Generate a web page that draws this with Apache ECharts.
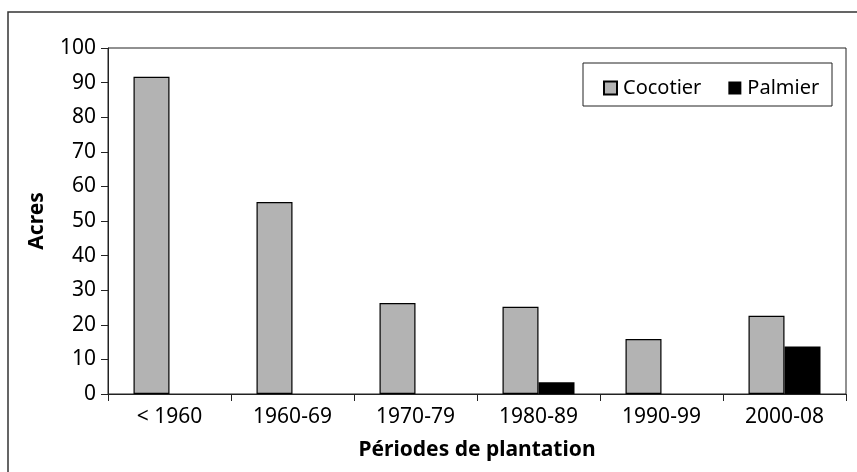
<!DOCTYPE html>
<html>
<head>
<meta charset="utf-8">
<script src="https://cdn.jsdelivr.net/npm/echarts@6/dist/echarts.min.js"></script>
<style>
  html, body { margin: 0; padding: 0; background: #fff; }
  #chart { width: 857px; height: 472px; }
</style>
</head>
<body>
<div id="chart"></div>
<script>
// périodes et surfaces (acres)
var periodes = ['< 1960', '1960-69', '1970-79', '1980-89', '1990-99', '2000-08'];
var cocotier = [91.7, 55.5, 26.3, 25.2, 15.9, 22.6];
var palmier = [0, 0, 0, 3.4, 0, 13.7];

var police = 'Noto Sans';
var chart = echarts.init(document.getElementById('chart'));

var option = {
  animation: false,
  textStyle: { fontFamily: police, color: '#000' },
  grid: {
    left: 108, right: 11, top: 48, bottom: 78,
    show: true, borderColor: '#222', borderWidth: 1
  },
  graphic: [
    // cadre extérieur (coupé à droite et en bas)
    { type: 'rect', shape: { x: 8, y: 12, width: 900, height: 500 },
      style: { fill: 'none', stroke: '#333', lineWidth: 1.5 }, silent: true },
    // cadre de la légende
    { type: 'rect', shape: { x: 583, y: 63, width: 249, height: 43 },
      style: { fill: '#fff', stroke: '#222', lineWidth: 1 }, z: 5 }
  ],
  legend: {
    left: 598, top: 73,
    z: 10,
    icon: 'rect', itemWidth: 13, itemHeight: 13, itemGap: 27,
    textStyle: { fontFamily: police, fontSize: 20, color: '#000', padding: [0, 0, 0, 1] },
    data: ['Cocotier', 'Palmier']
  },
  xAxis: {
    type: 'category',
    data: periodes,
    name: 'Périodes de plantation',
    nameLocation: 'middle',
    nameGap: 46,
    nameTextStyle: { fontFamily: police, fontSize: 21, fontWeight: 'bold', color: '#000' },
    axisLine: { lineStyle: { color: '#222', width: 1 } },
    axisTick: { show: true, length: 7, inside: false, lineStyle: { color: '#222' } },
    axisLabel: { fontFamily: police, fontSize: 21, color: '#000', margin: 13 },
    splitLine: { show: false }
  },
  yAxis: {
    type: 'value',
    min: 0, max: 100, interval: 10,
    name: 'Acres',
    nameLocation: 'middle',
    nameGap: 60,
    nameRotate: 90,
    nameTextStyle: { fontFamily: police, fontSize: 21, fontWeight: 'bold', color: '#000' },
    axisLine: { show: true, lineStyle: { color: '#222', width: 1 } },
    axisTick: { show: true, length: 7, lineStyle: { color: '#222' } },
    axisLabel: { fontFamily: police, fontSize: 21, color: '#000', margin: 12 },
    splitLine: { show: false }
  },
  series: [
    {
      name: 'Cocotier', type: 'bar', data: cocotier,
      barWidth: 36, barGap: '0%',
      itemStyle: { color: '#b3b3b3', borderColor: '#000', borderWidth: 1.2 }
    },
    {
      name: 'Palmier', type: 'bar', data: palmier,
      barWidth: 36,
      itemStyle: { color: '#000', borderWidth: 0 }
    }
  ]
};

chart.setOption(option);
</script>
</body>
</html>
